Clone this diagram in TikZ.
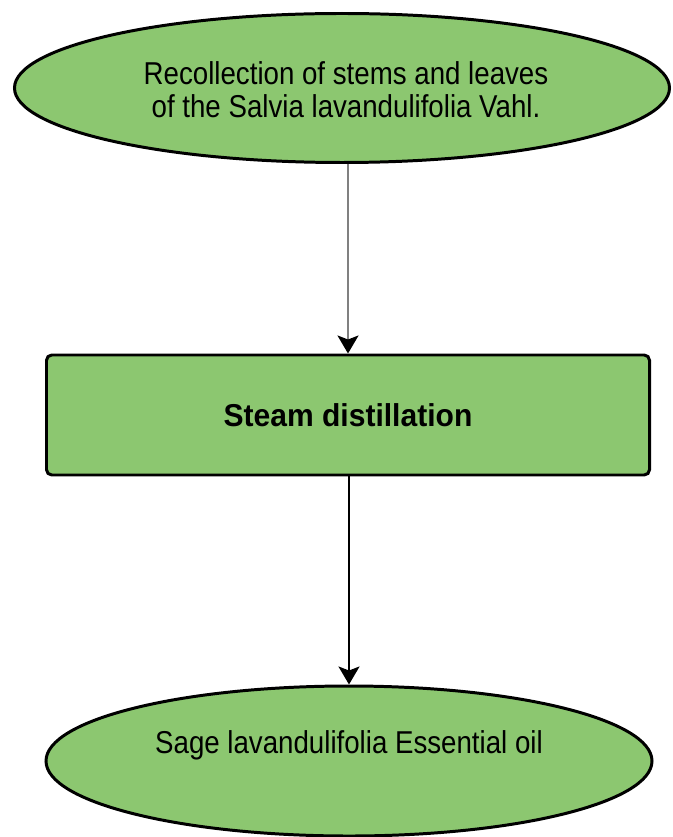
\documentclass[tikz,border=0pt]{standalone}
\usepackage{fontspec}
\setmainfont{Liberation Sans}
\newfontfamily\labelfont{Liberation Sans}[FakeStretch=0.875]
\newfontfamily\stepfont{Liberation Sans}[FakeStretch=0.95]
\usepackage{xcolor}
\usetikzlibrary{calc}
\usetikzlibrary{arrows.meta}
\usetikzlibrary{shapes.geometric}

\definecolor{leafGreen}{RGB}{140,199,112}

\begin{document}
\begin{tikzpicture}[
    x=0.02cm, y=-0.02cm,
    % --- styles ---
    stage/.style = {ellipse, draw=black, line width=1.7pt, fill=leafGreen, inner sep=0pt}, % start / end
    caption/.style = {align=center, font=\labelfont\fontsize{18}{19}\selectfont},          % ellipse text
    process/.style = {rectangle, rounded corners=3pt, draw=black, line width=1.7pt,
                      fill=leafGreen, inner sep=0pt,
                      font=\stepfont\bfseries\fontsize{18}{19}\selectfont},               % step
    flow/.style = {color=#1, line width=1.3pt,
                   -{Stealth[length=0.36cm,width=0.42cm,inset=0.08cm,color=black]}}       % connector
    ]

    % --- picture frame ---
    \useasboundingbox (0,0) rectangle (672,837);
    \clip (0,0) rectangle (672,837);

    % --- nodes ---
    \node[stage, minimum width=655*0.02cm, minimum height=149*0.02cm] (collect) at (342,88) {};
    \node[caption] (collectText) at (346,90)
        {Recollection of stems and leaves\\ of the Salvia lavandulifolia Vahl.};

    \node[process, minimum width=603*0.02cm, minimum height=120*0.02cm] (steam) at (348,415)
        {Steam distillation};

    \node[stage, minimum width=606*0.02cm, minimum height=150*0.02cm] (oil) at (349,761) {};
    \node[caption] (oilText) at (349,745) {Sage lavandulifolia Essential oil};

    % --- connectors ---
    \draw[flow={gray}] (collect.south -| steam.north) -- (steam.north);
    \draw[flow={black}] (steam.south -| oil.north) -- (oil.north);
\end{tikzpicture}
\end{document}
